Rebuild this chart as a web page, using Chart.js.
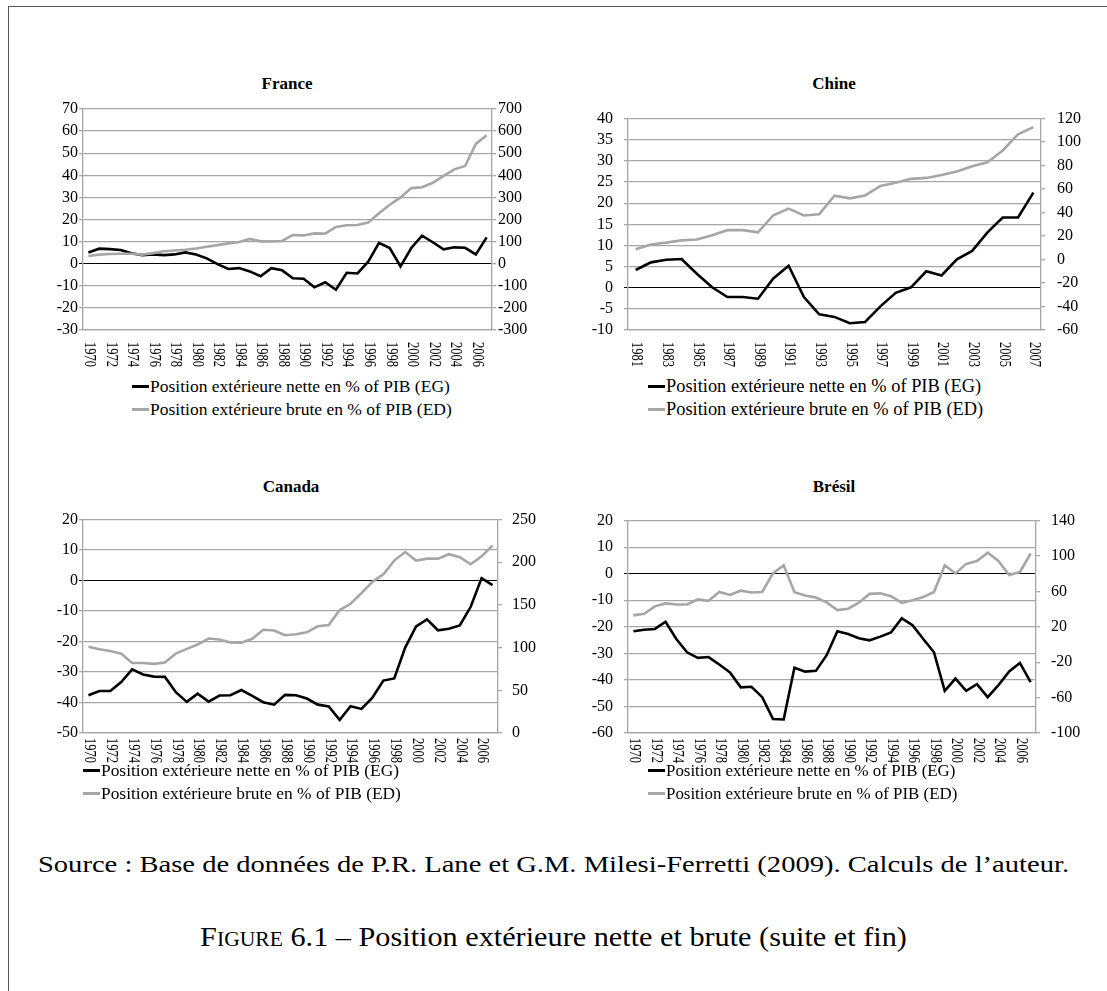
<!DOCTYPE html>
<html lang="fr">
<head>
<meta charset="utf-8">
<script src="https://cdn.jsdelivr.net/npm/chart.js@4.4.1/dist/chart.umd.min.js"></script>
<style>
  body { margin: 0; background: #fff; width: 1107px; height: 991px; position: relative; overflow: hidden;
         font-family: "Liberation Serif", "Times New Roman", serif; color: #000; }
  .cadre { position: absolute; left: 8px; top: 6px; width: 1300px; height: 1300px;
           border-left: 1.5px solid #555; border-top: 1.5px solid #555; }
  canvas { position: absolute; }
  .titre { position: absolute; font-weight: bold; font-size: 17px; transform: translate(-50%, -50%); white-space: nowrap; }
  .legende { position: absolute; line-height: 23px; }
  .legende div { white-space: nowrap; display: flex; align-items: center; }
  .trait { display: inline-block; width: 17px; height: 2.5px; margin-right: 1px; }
  .source { position: absolute; left: 0; width: 1107px; text-align: center; font-size: 24px; top: 851px;
            white-space: nowrap; transform: scaleX(1.19); }
  .figure { position: absolute; left: 0; width: 1107px; text-align: center; font-size: 28px; top: 921px;
            white-space: nowrap; transform: scaleX(1.08); }
  .figure .pc { font-variant: small-caps; }
</style>
</head>
<body>
<div class="cadre"></div>

<div class="titre" style="left:287px;top:84px">France</div>
<div class="titre" style="left:834px;top:84px">Chine</div>
<div class="titre" style="left:291px;top:487px">Canada</div>
<div class="titre" style="left:834px;top:487px">Brésil</div>

<canvas id="france" width="525" height="278" style="left:20px;top:97px"></canvas>
<canvas id="chine" width="529" height="278" style="left:565px;top:97px"></canvas>
<canvas id="canada" width="531" height="278" style="left:20px;top:500px"></canvas>
<canvas id="bresil" width="524" height="278" style="left:565px;top:500px"></canvas>

<div class="legende" style="left:132px;top:375px;font-size:17.5px" id="leg-france"></div>
<div class="legende" style="left:648px;top:375px;font-size:18.4px" id="leg-chine"></div>
<div class="legende" style="left:83px;top:759px;font-size:17.4px" id="leg-canada"></div>
<div class="legende" style="left:648px;top:759px;font-size:16.9px" id="leg-bresil"></div>

<div class="source">Source : Base de données de P.R. Lane et G.M. Milesi-Ferretti (2009). Calculs de l’auteur.</div>
<div class="figure"><span class="pc">Figure</span> 6.1 – Position extérieure nette et brute (suite et fin)</div>

<script>
// années
const annees = ['1970','1971','1972','1973','1974','1975','1976','1977','1978','1979',
  '1980','1981','1982','1983','1984','1985','1986','1987','1988','1989',
  '1990','1991','1992','1993','1994','1995','1996','1997','1998','1999',
  '2000','2001','2002','2003','2004','2005','2006','2007'];
const anneesChine = ['1981','1982','1983','1984','1985','1986','1987','1988','1989',
  '1990','1991','1992','1993','1994','1995','1996','1997','1998','1999',
  '2000','2001','2002','2003','2004','2005','2006','2007'];

// position nette (axe gauche) et brute (axe droit), en % du PIB
const franceNette = [5.1,6.8,6.6,6.2,4.7,3.9,4.2,3.9,4.2,5.1,4.2,2.4,-0.2,-2.4,-2.0,-3.5,-5.7,-2.0,-3.0,-6.6,
  -6.8,-10.7,-8.4,-11.8,-4.1,-4.4,0.9,9.4,7.1,-1.2,7.1,12.7,9.7,6.5,7.4,7.2,4.2,11.9];
const franceBrute = [35,41,44,45,45,41,48,56,60,63,69,77,84,92,98,112,101,101,103,130,
  128,137,136,166,174,175,186,228,267,300,342,346,366,397,427,442,542,581];

const chineNette = [4.2,6.0,6.6,6.8,3.3,0.1,-2.2,-2.2,-2.6,2.2,5.2,-2.2,-6.3,-6.9,-8.4,-8.1,-4.4,-1.2,0.1,
  3.9,2.9,6.7,8.7,13.1,16.6,16.6,22.5];
const chineBrute = [8.7,12.8,14.4,16.3,17.1,20.6,25,25,23.1,37.7,43.4,37.5,38.6,54.3,52.1,54.6,62.7,65.4,68.7,
  69.5,72,74.9,79.5,82.8,92.9,106.7,112.7];

const canadaNette = [-37.6,-36.2,-36.2,-33.3,-29.1,-30.8,-31.5,-31.6,-36.6,-39.8,-37.1,-39.7,-37.7,-37.6,-35.9,-37.8,-39.9,-40.7,-37.5,-37.6,
  -38.7,-40.7,-41.3,-45.7,-41.2,-42.1,-38.4,-32.8,-32.1,-22,-15,-12.7,-16.3,-15.8,-14.7,-8.6,0.8,-1.5];
const canadaBrute = [101,98,96,93,82,82,81,82.5,93,98.6,103.6,110.7,109.6,106,105.7,110.4,121,120,114.6,115.7,
  118,125,126.4,144,151.4,163.9,177.1,186,202,212,202,204.3,204.3,209.5,206,197.7,207,219.6];

const bresilNette = [-21.7,-21.1,-20.8,-18.1,-24.6,-29.6,-31.7,-31.4,-34.2,-37.2,-42.8,-42.6,-46.5,-54.7,-54.9,-35.4,-36.9,-36.6,
  -30.7,-21.7,-22.7,-24.3,-25.1,-23.7,-22.1,-16.8,-19.4,-24.6,-29.6,-44.1,-39.5,-44.1,-41.6,-46.5,-42,-36.8,-33.6,-40.8];
const bresilBrute = [32.9,34.7,43.1,46.4,45.2,45.2,50.9,49.4,59.3,56,60.8,58.7,59.3,80.3,89.6,59,55.4,53.1,
  47.6,38.9,40.4,47.3,57.2,57.8,54.5,47,50,53.6,59.3,89.6,80.3,91.1,94.4,103.7,94.4,78.5,81.8,102.8];

const libNette = 'Position extérieure nette en % of PIB (EG)';
const libBrute = 'Position extérieure brute en % of PIB (ED)';

const GRIS = '#a6a6a6';
const police = { family: '"Liberation Serif", "Times New Roman", serif', size: 16 };

// étiquettes d'années tournées de 90° (lecture de haut en bas), une sur deux, un peu resserrées
const etiquettesX = {
  id: 'etiquettesX',
  afterDraw(chart, args, opts) {
    const x = chart.scales.x, ctx = chart.ctx;
    ctx.save();
    ctx.font = '16px "Liberation Serif", serif';
    ctx.fillStyle = '#000';
    ctx.textAlign = 'left';
    ctx.textBaseline = 'middle';
    chart.data.labels.forEach((lab, i) => {
      if (i % 2) return;
      ctx.save();
      ctx.translate(x.getPixelForValue(i) + 1, x.top + opts.decalage);
      ctx.rotate(Math.PI / 2);
      ctx.scale(0.78, 1);
      ctx.fillText(lab, 0, 0);
      ctx.restore();
    });
    ctx.restore();
  }
};

function graphique(id, labels, nette, brute, g, d, padG, padD, decalage) {
  return new Chart(document.getElementById(id), {
    type: 'line',
    data: {
      labels: labels,
      datasets: [
        { label: libNette, data: nette, yAxisID: 'y', borderColor: '#000', borderWidth: 2.6,
          pointRadius: 0, tension: 0, order: 1 },
        { label: libBrute, data: brute, yAxisID: 'y1', borderColor: GRIS, borderWidth: 2.6,
          pointRadius: 0, tension: 0, order: 0 }
      ]
    },
    options: {
      responsive: false,
      animation: false,
      layout: { padding: { top: 12, left: 0, right: 0, bottom: 0 } },
      plugins: { legend: { display: false }, tooltip: { enabled: false }, etiquettesX: { decalage: decalage } },
      scales: {
        x: {
          offset: true,
          grid: { display: false },
          border: { display: true, color: GRIS, width: 1.3 },
          ticks: { display: false },
          afterFit: s => { s.height = 45; }
        },
        y: {
          position: 'left',
          min: g[0], max: g[1],
          ticks: { stepSize: g[2], autoSkip: false, color: '#000', font: police, padding: padG },
          grid: {
            color: c => c.tick && c.tick.value === 0 ? '#000' : GRIS,
            lineWidth: c => c.tick && c.tick.value === 0 ? 1 : 1.3,
            tickLength: 4
          },
          border: { color: GRIS, width: 1.3 },
          afterFit: s => { s.width = 63; }
        },
        y1: {
          position: 'right',
          min: d[0], max: d[1],
          ticks: { stepSize: d[2], autoSkip: false, color: '#000', font: police, padding: padD },
          grid: { drawOnChartArea: false, color: GRIS, lineWidth: 1.3, tickLength: 4 },
          border: { color: GRIS, width: 1.3 },
          afterFit: s => { s.width = 53; }
        }
      }
    },
    plugins: [etiquettesX]
  });
}

graphique('france', annees, franceNette, franceBrute, [-30, 70, 10], [-300, 700, 100], 1, 2, 12);
graphique('chine', anneesChine, chineNette, chineBrute, [-10, 40, 5], [-60, 120, 20], 11, 12, 12);
graphique('canada', annees, canadaNette, canadaBrute, [-50, 20, 10], [0, 250, 50], 1, 10, 5);
graphique('bresil', annees, bresilNette, bresilBrute, [-60, 20, 10], [-100, 140, 40], 11, 11, 5);

// légendes
function legende(id) {
  const el = document.getElementById(id);
  [[libNette, '#000'], [libBrute, GRIS]].forEach(([t, c]) => {
    const ligne = document.createElement('div');
    const trait = document.createElement('span');
    trait.className = 'trait';
    trait.style.background = c;
    ligne.appendChild(trait);
    ligne.appendChild(document.createTextNode(t));
    el.appendChild(ligne);
  });
}
['leg-france', 'leg-chine', 'leg-canada', 'leg-bresil'].forEach(legende);
</script>
</body>
</html>
